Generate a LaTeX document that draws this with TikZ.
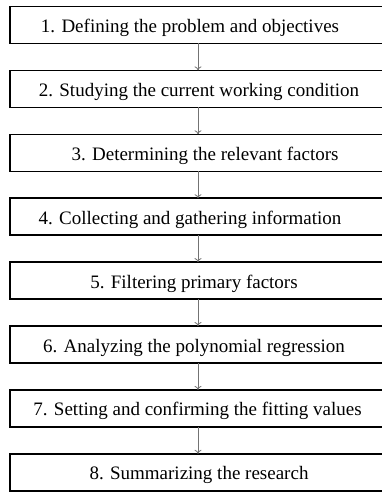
\documentclass[tikz,border=0pt]{standalone}
\usepackage{fontspec}
\setmainfont{Liberation Serif}
\usetikzlibrary{arrows.meta}
\begin{document}
\begin{tikzpicture}[x=1pt,y=-1pt,
  stepbox/.style={draw=black,line width=1.6pt,minimum width=376pt,minimum height=37pt,inner sep=0pt,outer sep=0pt},
  steptext/.style={anchor=base,inner sep=0pt,font=\fontsize{19}{22}\selectfont},
  flow/.style={draw=black!55,line width=0.8pt,-{To[length=4pt,width=7pt]}}]
\useasboundingbox (0,0) rectangle (382,492);
\foreach \i in {1,...,8}{
  \node[stepbox] (b\i) at (198,{25+63.9*(\i-1)}) {};
}
\node[steptext] (t1) at (190,{25+7.5}) {1. Defining the problem and objectives};
\node[steptext] (t2) at (199,{25+63.9+7.5}) {2. Studying the current working condition};
\node[steptext] (t3) at (205,{25+2*63.9+7.5}) {3. Determining the relevant factors};
\node[steptext] (t4) at (190,{25+3*63.9+7.5}) {4. Collecting and gathering information};
\node[steptext] (t5) at (194,{25+4*63.9+7.5}) {5. Filtering primary factors};
\node[steptext] (t6) at (194,{25+5*63.9+7.5}) {6. Analyzing the polynomial regression};
\node[steptext] (t7) at (197.5,{25+6*63.9+7.5}) {7. Setting and confirming the fitting values};
\node[steptext] (t8) at (199,{25+7*63.9+7.5}) {8. Summarizing the research};
\foreach \i [evaluate=\i as \j using int(\i+1)] in {1,...,7}{
  \draw[flow] (b\i.south) -- (b\j.north);
}
\end{tikzpicture}
\end{document}
